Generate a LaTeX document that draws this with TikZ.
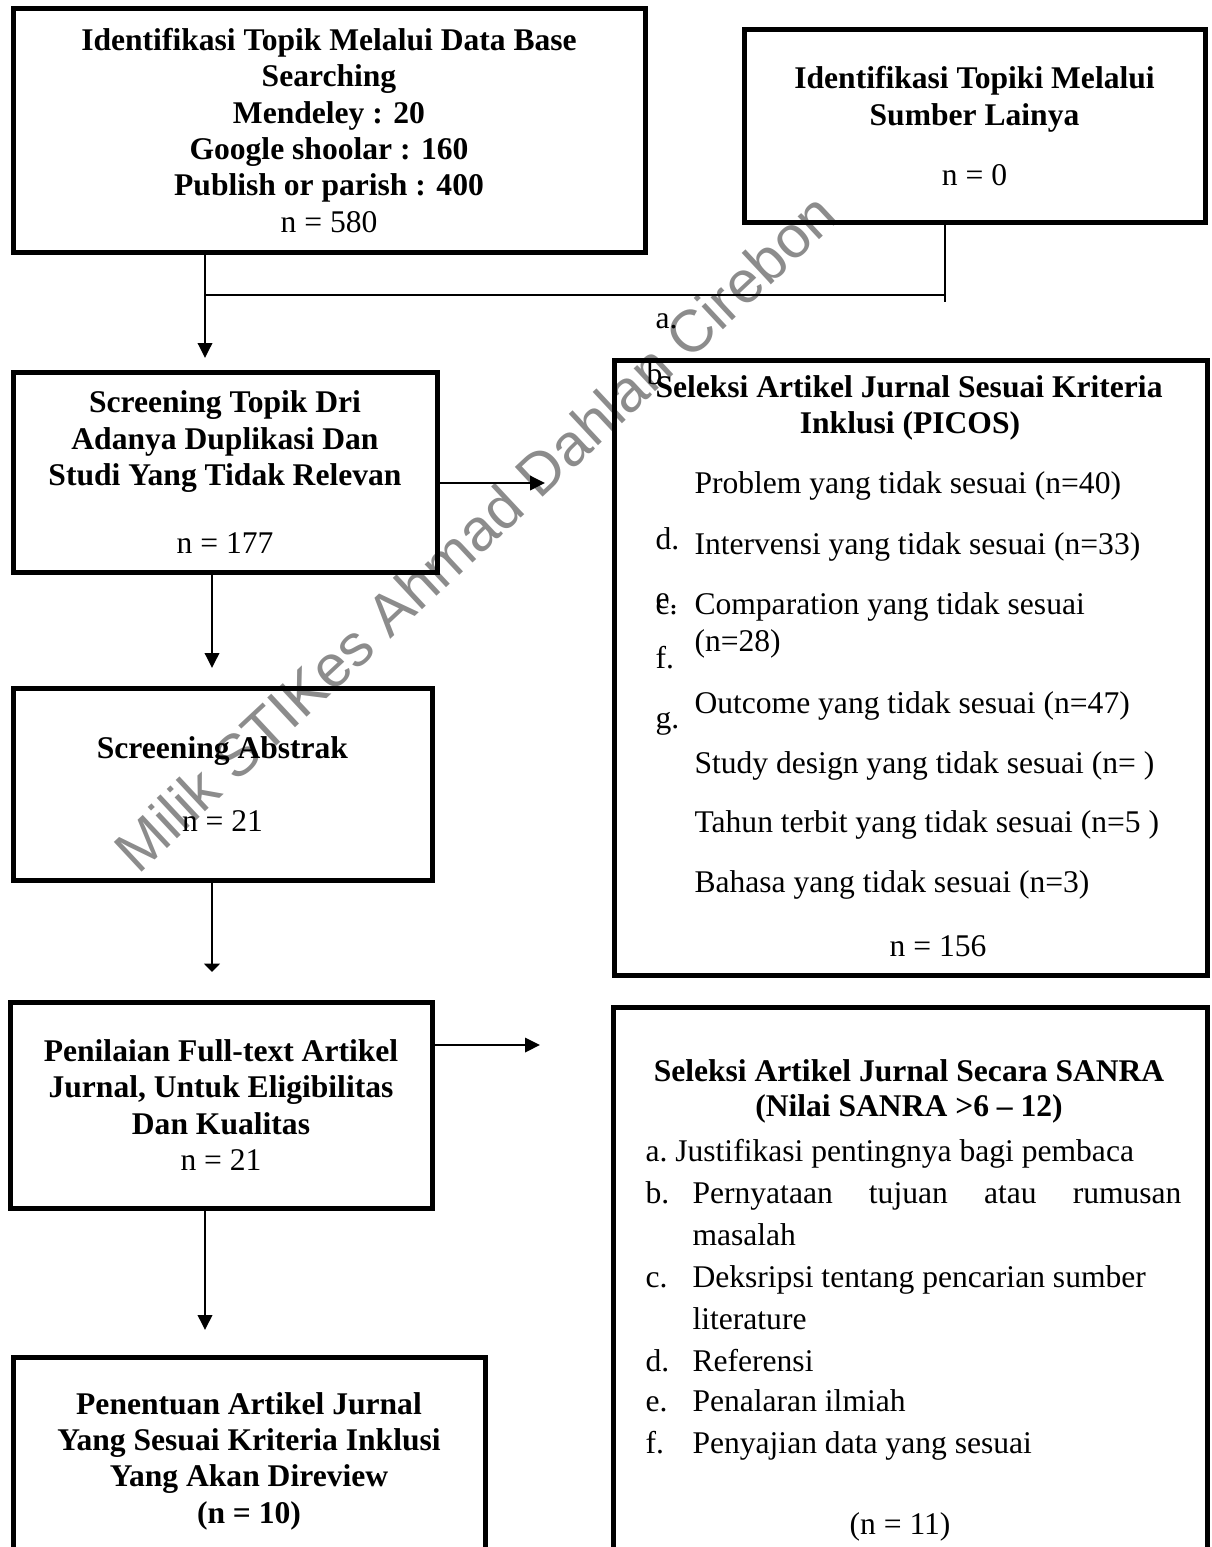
\documentclass[tikz,border=0pt]{standalone}
\usepackage{fontspec}
\setmainfont{Liberation Serif}
\setsansfont{Liberation Sans}
\usetikzlibrary{arrows.meta}

\begin{document}
\begin{tikzpicture}[x=0.38pt, y=-0.38pt,
		font=\fontsize{12}{13.8}\selectfont,
		box/.style={draw, line width=1.9pt, align=center, font=\fontsize{12}{13.8}\selectfont\bfseries},
		head/.style={anchor=mid, font=\fontsize{12}{13.8}\selectfont\bfseries},
		item/.style={anchor=mid west},
		joint/.style={line width=0.6pt},
		flow/.style={line width=0.75pt, -{Triangle[length=5.7pt,width=5.5pt]}},
		flowsmall/.style={line width=0.75pt, -{Triangle[length=3.2pt,width=6pt]}}]
		\tikzstyle{every node}+=[inner sep=0pt]
		\useasboundingbox (0,0) rectangle (1211,1547);
		\clip (0,0) rectangle (1211,1547);
		\node (idDb) [box, minimum width=632*0.38pt, minimum height=243*0.38pt] at (329,130.5) {Identifikasi Topik Melalui Data Base\\Searching\\Mendeley : 20\\Google shoolar : 160\\Publish or parish : 400\\\mdseries n = 580};
		\node (idLain) [box, minimum width=461*0.38pt, minimum height=192*0.38pt] at (974.5,126) {Identifikasi Topiki Melalui\\Sumber Lainya\\[9pt]\mdseries n = 0};
		\node (scr) [box, minimum width=424*0.38pt, minimum height=200*0.38pt] at (225,472) {Screening Topik Dri\\Adanya Duplikasi Dan\\Studi Yang Tidak Relevan\\[12pt]\mdseries n = 177};
		\node (picos) [box, minimum width=593*0.38pt, minimum height=615*0.38pt] at (910.5,667.5) {};
		\node (abs) [box, minimum width=419*0.38pt, minimum height=192*0.38pt] at (222.5,784) {Screening Abstrak\\[14pt]\mdseries n = 21};
		\node (full) [box, minimum width=422*0.38pt, minimum height=206*0.38pt] at (221,1105) {Penilaian Full-text Artikel\\Jurnal, Untuk Eligibilitas\\Dan Kualitas\\\mdseries n = 21};
		\node (sanra) [box, minimum width=594*0.38pt, minimum height=590*0.38pt] at (910,1302) {};
		\node (pen) [box, minimum width=472*0.38pt, minimum height=208*0.38pt] at (249,1461) {Penentuan Artikel Jurnal\\Yang Sesuai Kriteria Inklusi\\Yang Akan Direview\\(n = 10)};

		\node (mkA) [item] at (655,322) {a.};
		\node (mkB) [item] at (646,378) {b};
		\node (picT1) [head] at (909,391) {Seleksi Artikel Jurnal Sesuai Kriteria};
		\node (picT2) [head] at (910,427) {Inklusi (PICOS)};
		\node (picP) [item] at (694,487) {Problem yang tidak sesuai (n=40)};
		\node (mkD) [item] at (655,543) {d.};
		\node (picI) [item] at (694,548) {Intervensi yang tidak sesuai (n=33)};
		\node (mkE) [item] at (655,602) {e.};
		\node (mkC) [item] at (655,608) {c.};
		\node (picC) [item] at (694,608) {Comparation yang tidak sesuai};
		\node (picCn) [item] at (694,645) {(n=28)};
		\node (mkF) [item] at (655,662) {f.};
		\node (picO) [item] at (694,707) {Outcome yang tidak sesuai (n=47)};
		\node (mkG) [item] at (655,722) {g.};
		\node (picS) [item] at (694,767) {Study design yang tidak sesuai (n= )};
		\node (picTh) [item] at (694,826) {Tahun terbit yang tidak sesuai (n=5 )};
		\node (picBh) [item] at (694,886) {Bahasa yang tidak sesuai (n=3)};
		\node (picN) [anchor=mid] at (938,950) {n = 156};

		\node (snT1) [head] at (909,1075) {Seleksi Artikel Jurnal Secara SANRA};
		\node (snT2) [head] at (909,1110) {(Nilai SANRA >6 -- 12)};
		\node (snA) [item] at (645,1155) {a.~Justifikasi pentingnya bagi pembaca};
		\node (snBm) [item] at (645,1197) {b.};
		\node (snB) [item] at (692,1197) {\makebox[185.8pt][s]{Pernyataan tujuan atau rumusan}};
		\node (snB2) [item] at (692,1239) {masalah};
		\node (snCm) [item] at (645,1281) {c.};
		\node (snC) [item] at (692,1281) {Deksripsi tentang pencarian sumber};
		\node (snC2) [item] at (692,1323) {literature};
		\node (snDm) [item] at (645,1365) {d.};
		\node (snD) [item] at (692,1365) {Referensi};
		\node (snEm) [item] at (645,1405) {e.};
		\node (snE) [item] at (692,1405) {Penalaran ilmiah};
		\node (snFm) [item] at (645,1447) {f.};
		\node (snF) [item] at (692,1447) {Penyajian data yang sesuai};
		\node (snN) [anchor=mid] at (900,1528) {(n = 11)};

		\coordinate (jL) at (205,295);
		\coordinate (jR) at (945,295);
		\coordinate (jEnd) at (945,302);
		\coordinate (scrIn) at (205,358);
		\coordinate (scrOut) at (545,483);
		\coordinate (scrDown) at (212,668);
		\coordinate (absDown) at (212,972);
		\coordinate (fullOut) at (540,1045);
		\coordinate (fullDown) at (205,1330);
		\draw [line width=0.75pt] (idDb.south -| jL) -- (jL);
		\draw [joint] (jL) -- (jR);
		\draw [joint] (idLain.south -| jEnd) -- (jEnd);
		\draw [flow] (jL) -- (scrIn);
		\draw [flow] (scr.east |- scrOut) -- (scrOut);
		\draw [flow] (scr.south -| scrDown) -- (scrDown);
		\draw [flowsmall] (abs.south -| absDown) -- (absDown);
		\draw [flow] (full.east |- fullOut) -- (fullOut);
		\draw [flow] (full.south -| fullDown) -- (fullDown);

		\node (wm) [rotate=43, text=black, opacity=0.45, font=\fontsize{22.5}{22.5}\sffamily] at (475,532) {Milik STIKes Ahmad Dahlan Cirebon};
\end{tikzpicture}
\end{document}
